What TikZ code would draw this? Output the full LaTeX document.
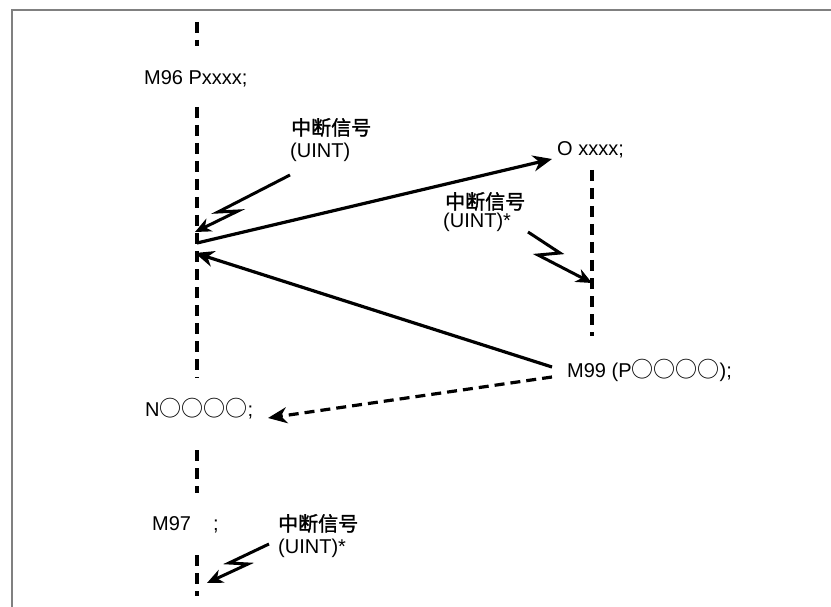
\documentclass[tikz,border=0pt]{standalone}
\usepackage{fontspec}
\setmainfont{Liberation Sans}
\newfontfamily\cjk{Noto Sans CJK SC}
\newfontfamily\cjkb[FakeBold=1.5]{Noto Sans CJK SC}
\usetikzlibrary{arrows.meta}
\newcommand\circchar{{\fontsize{22}{24}\cjk ○}}
\begin{document}
\begin{tikzpicture}[x=1pt,y=-1pt,
  txt/.style={inner sep=0pt, anchor=base west, font=\fontsize{20}{24}\selectfont},
  cn/.style={inner sep=0pt, anchor=base west, font=\fontsize{20}{24}\selectfont\cjkb},
  life/.style={line width=3.2pt, dash pattern=on 11pt off 7pt},
  msg/.style={line width=3.2pt, -{Stealth[length=19pt,width=16pt,inset=6pt]}},
  ret/.style={msg, dash pattern=on 10pt off 6pt},
  bolt/.style={line width=3pt, -{Stealth[length=16pt,width=14pt,inset=5pt]}},
  frame/.style={draw=gray, line width=2pt}]
\useasboundingbox (0,0) rectangle (831,607);
\fill[white] (0,0) rectangle (831,607);
\draw[frame] (12,607) -- (12,10) -- (831,10);

% texts
\node[txt] (m96) at (144,85) {M96 Pxxxx;};
\node[cn]  (i1)  at (291,135) {中断信号};
\node[txt] (u1)  at (290,158) {(UINT)};
\node[txt] (oxx) at (557,156) {O xxxx;};
\node[cn]  (i2)  at (445,209) {中断信号};
\node[txt] (u2)  at (443,228) {(UINT)*};
\node[txt] (m99) at (567,377) {M99 (P\circchar\circchar\circchar\circchar);};
\node[txt] (nnn) at (145,416) {N\circchar\circchar\circchar\circchar;};
\node[txt] (m97) at (152,530) {M97\hspace{22pt};};
\node[cn]  (i3)  at (278,531) {中断信号};
\node[txt] (u3)  at (278,553) {(UINT)*};

% lifelines
\coordinate (a1) at (197,22);  \coordinate (a2) at (197,46);
\coordinate (b1) at (197,107); \coordinate (b2) at (197,378);
\coordinate (c1) at (197,450); \coordinate (c2) at (197,493);
\coordinate (d1) at (197,555); \coordinate (d2) at (197,596);
\coordinate (r1) at (592,170); \coordinate (r2) at (592,336);
\draw[life] (a1) -- (a2);
\draw[life] (b1) -- (b2);
\draw[life] (c1) -- (c2);
\draw[life] (d1) -- (d2);
\draw[life] (r1) -- (r2);

% calls and returns
\coordinate (p1) at (197,243); \coordinate (p2) at (552,159);
\coordinate (q1) at (552,367); \coordinate (q2) at (195,253);
\coordinate (q3) at (552,377); \coordinate (q4) at (268,418);
\draw[msg] (p1) -- (p2);
\draw[msg] (q1) -- (q2);
\draw[ret] (q3) -- (q4);

% interrupt bolts
\coordinate (s1) at (290,175); \coordinate (k1) at (218,212); \coordinate (k2) at (238,211); \coordinate (t1) at (195,232);
\coordinate (s2) at (528,232); \coordinate (k3) at (560,253); \coordinate (k4) at (538,255); \coordinate (t2) at (592,283);
\coordinate (s3) at (269,544); \coordinate (k5) at (229,563); \coordinate (k6) at (248,564); \coordinate (t3) at (207,583);
\draw[bolt] (s1) -- (k1) -- (k2) -- (t1);
\draw[bolt] (s2) -- (k3) -- (k4) -- (t2);
\draw[bolt] (s3) -- (k5) -- (k6) -- (t3);
\end{tikzpicture}
\end{document}
